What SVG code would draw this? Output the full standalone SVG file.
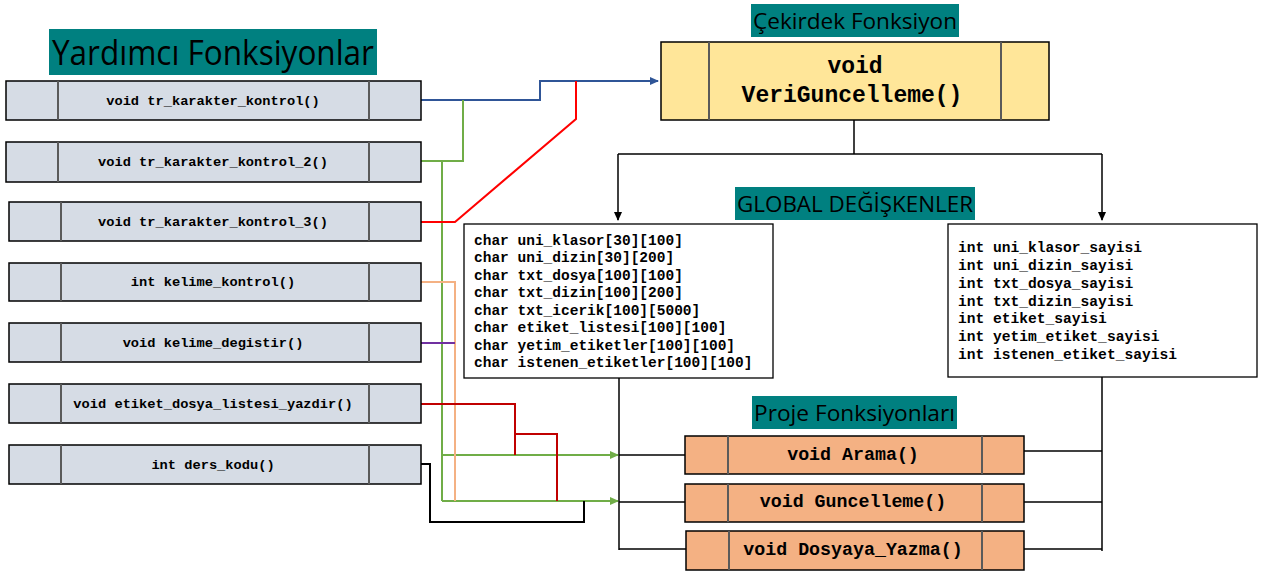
<svg xmlns="http://www.w3.org/2000/svg" width="1266" height="577" viewBox="0 0 1266 577">
<defs>
<style>
.title{fill:#008080}
.ttext{font-family:"Open Sans","Noto Sans",sans-serif;font-weight:500;fill:#000}
.helper{fill:#D6DCE5;stroke:#000;stroke-width:1.5}
.core{fill:#FFE699;stroke:#000;stroke-width:1.5}
.proj{fill:#F4B183;stroke:#000;stroke-width:1.5}
.div{stroke:#5a5a5a;stroke-width:2}
.code{font-family:"Liberation Mono","Courier New",monospace;font-weight:bold;fill:#000}
.var{fill:#fff;stroke:#000;stroke-width:1.3}
.ln{fill:none;stroke-width:2}
.blk{fill:none;stroke:#000;stroke-width:1.5}
</style>
<marker id="aBlue" markerWidth="10" markerHeight="10" refX="8" refY="4" orient="auto" markerUnits="userSpaceOnUse"><path d="M0,0 L9,4 L0,8 Z" fill="#2F5597"/></marker>
<marker id="aGreen" markerWidth="10" markerHeight="10" refX="8" refY="4" orient="auto" markerUnits="userSpaceOnUse"><path d="M0,0 L9,4 L0,8 Z" fill="#70AD47"/></marker>
<marker id="aBlack" markerWidth="10" markerHeight="10" refX="8" refY="4" orient="auto" markerUnits="userSpaceOnUse"><path d="M0,0 L9,4 L0,8 Z" fill="#000"/></marker>
</defs>
<rect width="1266" height="577" fill="#fff"/>

<g id="title-yardimci">
<rect class="title" x="49" y="29" width="328" height="46"/>
<text class="ttext" x="52" y="65" font-size="34" textLength="322" lengthAdjust="spacingAndGlyphs">Yardımcı Fonksiyonlar</text>
</g>
<g id="title-cekirdek">
<rect class="title" x="751" y="4" width="208" height="33"/>
<text class="ttext" x="753" y="29" font-size="22" textLength="204" lengthAdjust="spacingAndGlyphs">Çekirdek Fonksiyon</text>
</g>
<g id="title-global">
<rect class="title" x="735" y="187" width="240" height="33"/>
<text class="ttext" x="737" y="212" font-size="22" textLength="236" lengthAdjust="spacingAndGlyphs">GLOBAL DEĞİŞKENLER</text>
</g>
<g id="title-proje">
<rect class="title" x="752" y="396" width="205" height="33"/>
<text class="ttext" x="754" y="421" font-size="22" textLength="201" lengthAdjust="spacingAndGlyphs">Proje Fonksiyonları</text>
</g>

<g id="connectors">
<polyline class="ln" stroke="#2F5597" points="421,100 540,100 540,81 658,81" marker-end="url(#aBlue)"/>
<polyline class="ln" stroke="#70AD47" points="421,161 463,161 463,100"/>
<polyline class="ln" stroke="#70AD47" points="442,161 442,501"/>
<polyline class="ln" stroke="#70AD47" points="442,455 618,455" marker-end="url(#aGreen)"/>
<polyline class="ln" stroke="#70AD47" points="442,501 618,501" marker-end="url(#aGreen)"/>
<polyline class="ln" stroke="#FF0000" points="421,222 455,222 576,119 576,81"/>
<polyline class="ln" stroke="#F4B183" points="421,282 455,282 455,501"/>
<polyline class="ln" stroke="#7030A0" points="421,343 455,343"/>
<polyline class="ln" stroke="#C00000" points="421,404 515,404 515,455"/>
<polyline class="ln" stroke="#C00000" points="515,434 557,434 557,501"/>
<polyline class="ln" stroke="#000" points="421,464 430,464 430,522 584,522 584,501"/>
<polyline class="blk" points="854,120 854,154"/>
<polyline class="blk" points="618,154 1102,154"/>
<polyline class="blk" points="618,154 618,220" marker-end="url(#aBlack)"/>
<polyline class="blk" points="1102,154 1102,220" marker-end="url(#aBlack)"/>
<polyline class="blk" points="619,378 619,550"/>
<polyline class="blk" points="619,455 685,455"/>
<polyline class="blk" points="619,502 685,502"/>
<polyline class="blk" points="619,549 686,549"/>
<polyline class="blk" points="1102,377 1102,551"/>
<polyline class="blk" points="1024,451 1102,451"/>
<polyline class="blk" points="1024,502 1102,502"/>
<polyline class="blk" points="1024,549 1102,549"/>
</g>

<g id="n-tr1">
<rect class="helper" x="6" y="81" width="415" height="39"/>
<line class="div" x1="58" y1="81" x2="58" y2="120"/><line class="div" x1="369" y1="81" x2="369" y2="120"/>
<text class="code" x="213" y="105" font-size="13.7" text-anchor="middle">void tr_karakter_kontrol()</text>
</g>
<g id="n-tr2">
<rect class="helper" x="6" y="142" width="415" height="40"/>
<line class="div" x1="58" y1="142" x2="58" y2="182"/><line class="div" x1="369" y1="142" x2="369" y2="182"/>
<text class="code" x="213" y="166" font-size="13.7" text-anchor="middle">void tr_karakter_kontrol_2()</text>
</g>
<g id="n-tr3">
<rect class="helper" x="9" y="202" width="412" height="39"/>
<line class="div" x1="61" y1="202" x2="61" y2="241"/><line class="div" x1="369" y1="202" x2="369" y2="241"/>
<text class="code" x="213" y="226" font-size="13.7" text-anchor="middle">void tr_karakter_kontrol_3()</text>
</g>
<g id="n-kelime-kontrol">
<rect class="helper" x="9" y="263" width="412" height="38"/>
<line class="div" x1="61" y1="263" x2="61" y2="301"/><line class="div" x1="369" y1="263" x2="369" y2="301"/>
<text class="code" x="213" y="286" font-size="13.7" text-anchor="middle">int kelime_kontrol()</text>
</g>
<g id="n-kelime-degistir">
<rect class="helper" x="9" y="323" width="412" height="39"/>
<line class="div" x1="61" y1="323" x2="61" y2="362"/><line class="div" x1="369" y1="323" x2="369" y2="362"/>
<text class="code" x="213" y="347" font-size="13.7" text-anchor="middle">void kelime_degistir()</text>
</g>
<g id="n-etiket">
<rect class="helper" x="9" y="384" width="412" height="39"/>
<line class="div" x1="61" y1="384" x2="61" y2="423"/><line class="div" x1="369" y1="384" x2="369" y2="423"/>
<text class="code" x="213" y="408" font-size="13.7" text-anchor="middle">void etiket_dosya_listesi_yazdir()</text>
</g>
<g id="n-ders">
<rect class="helper" x="9" y="445" width="412" height="39"/>
<line class="div" x1="61" y1="445" x2="61" y2="484"/><line class="div" x1="369" y1="445" x2="369" y2="484"/>
<text class="code" x="213" y="469" font-size="13.7" text-anchor="middle">int ders_kodu()</text>
</g>

<g id="n-core">
<rect class="core" x="661" y="42" width="388" height="78"/>
<line class="div" x1="709" y1="42" x2="709" y2="120" stroke="#7f6f4f"/><line class="div" x1="1001" y1="42" x2="1001" y2="120"/>
<text class="code" x="855" y="73" font-size="23" text-anchor="middle">void</text>
<text class="code" x="852" y="102" font-size="23" text-anchor="middle">VeriGuncelleme()</text>
</g>

<g id="n-global-char">
<rect class="var" x="464" y="224" width="309" height="154"/>
<text class="code" x="474" font-size="14.5">
<tspan x="474" y="244.5">char uni_klasor[30][100]</tspan>
<tspan x="474" y="262">char uni_dizin[30][200]</tspan>
<tspan x="474" y="279.5">char txt_dosya[100][100]</tspan>
<tspan x="474" y="297">char txt_dizin[100][200]</tspan>
<tspan x="474" y="314.5">char txt_icerik[100][5000]</tspan>
<tspan x="474" y="332">char etiket_listesi[100][100]</tspan>
<tspan x="474" y="349.5">char yetim_etiketler[100][100]</tspan>
<tspan x="474" y="367">char istenen_etiketler[100][100]</tspan>
</text>
</g>

<g id="n-global-int">
<rect class="var" x="948" y="224" width="309" height="153"/>
<text class="code" font-size="14.6">
<tspan x="958" y="252">int uni_klasor_sayisi</tspan>
<tspan x="958" y="270">int uni_dizin_sayisi</tspan>
<tspan x="958" y="287.5">int txt_dosya_sayisi</tspan>
<tspan x="958" y="305.5">int txt_dizin_sayisi</tspan>
<tspan x="958" y="323">int etiket_sayisi</tspan>
<tspan x="958" y="341">int yetim_etiket_sayisi</tspan>
<tspan x="958" y="358.5">int istenen_etiket_sayisi</tspan>
</text>
</g>

<g id="n-arama">
<rect class="proj" x="685" y="436" width="339" height="38"/>
<line class="div" x1="728" y1="436" x2="728" y2="474" stroke="#7f4f2f"/><line class="div" x1="982" y1="436" x2="982" y2="474" stroke="#7f4f2f"/>
<text class="code" x="853" y="460" font-size="18.3" text-anchor="middle">void Arama()</text>
</g>
<g id="n-guncelleme">
<rect class="proj" x="685" y="484" width="339" height="38"/>
<line class="div" x1="728" y1="484" x2="728" y2="522" stroke="#7f4f2f"/><line class="div" x1="982" y1="484" x2="982" y2="522" stroke="#7f4f2f"/>
<text class="code" x="853" y="507" font-size="18.3" text-anchor="middle">void Guncelleme()</text>
</g>
<g id="n-dosyaya">
<rect class="proj" x="686" y="531" width="338" height="39"/>
<line class="div" x1="729" y1="531" x2="729" y2="570" stroke="#7f4f2f"/><line class="div" x1="982" y1="531" x2="982" y2="570" stroke="#7f4f2f"/>
<text class="code" x="853" y="555" font-size="18.3" text-anchor="middle">void Dosyaya_Yazma()</text>
</g>
</svg>
